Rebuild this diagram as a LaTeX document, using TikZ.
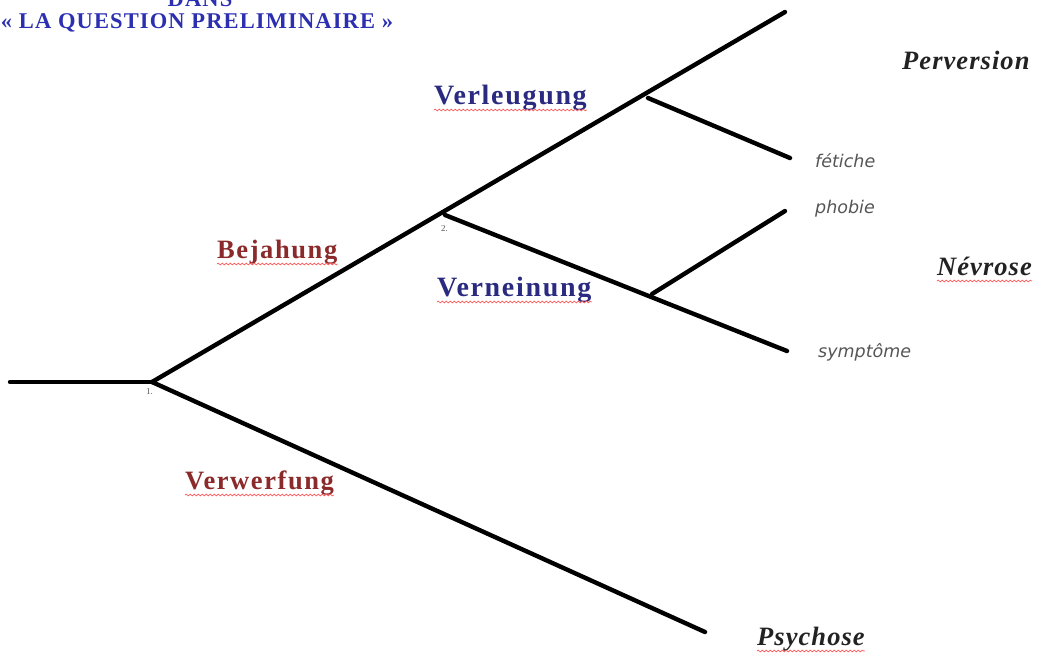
\documentclass[tikz,border=0pt]{standalone}
\usepackage{fontspec}
\setmainfont{Liberation Serif}
\newfontfamily\smallit{DejaVu Sans}
\usetikzlibrary{decorations.pathmorphing}
\definecolor{titleblue}{HTML}{2B2FB0}
\definecolor{dblue}{HTML}{2A2A80}
\definecolor{dred}{HTML}{8A2A2A}
\definecolor{ink}{HTML}{222222}
\definecolor{grey}{HTML}{555555}
\tikzset{
  branch/.style={line width=4.4pt, line cap=round, black},
  term/.style={inner sep=0pt, anchor=base west, font=\fontsize{28}{30}\selectfont\bfseries\addfontfeatures{LetterSpace=6}},
  termb/.style={inner sep=0pt, anchor=base west, font=\fontsize{26.5}{30}\selectfont\bfseries\addfontfeatures{LetterSpace=6}},
  fin/.style={inner sep=0pt, anchor=base west, text=ink, font=\fontsize{26.5}{30}\selectfont\bfseries\itshape\addfontfeatures{LetterSpace=4}},
  sub/.style={inner sep=0pt, anchor=base west, text=grey, font=\smallit\fontsize{17.5}{20}\selectfont\itshape},
  num/.style={inner sep=0pt, anchor=base west, text=grey, font=\fontsize{9}{10}\selectfont},
  wavy/.style={draw=red!65, line width=0.7pt, decorate, decoration={snake, segment length=4pt, amplitude=0.9pt}},
  ttl/.style={inner sep=0pt, anchor=base, text=titleblue, font=\fontsize{22.5}{26}\selectfont\bfseries\addfontfeatures{LetterSpace=5}}
}
\begin{document}
\begin{tikzpicture}[x=1pt,y=-1pt]
\useasboundingbox (0,0) rectangle (1041,657);
% title
\node[ttl] (t0) at (200,6) {DANS};
\node[ttl] (t1) at (197,28) {« LA QUESTION PRELIMINAIRE »};
% branch points
\coordinate (s) at (10,382);
\coordinate (r) at (152,382);
\coordinate (b2) at (445,215);
\coordinate (b3) at (648,98);
\coordinate (b4) at (652,294);
\coordinate (eP) at (785,12);
\coordinate (eF) at (790,158);
\coordinate (eH) at (785,211);
\coordinate (eS) at (787,351);
\coordinate (eY) at (705,632);
% branches
\draw[branch] (s) -- (r);
\draw[branch] (r) -- (eP);
\draw[branch] (r) -- (eY);
\draw[branch] (b2) -- (eS);
\draw[branch] (b3) -- (eF);
\draw[branch] (b4) -- (eH);
% small numbers
\node[num] (n1) at (146,394) {1.};
\node[num] (n2) at (441,231) {2.};
% terms
\node[term, text=dblue] (verl) at (434,104) {Verleugung};
\node[termb, text=dred] (bej) at (217,258) {Bejahung};
\node[term, text=dblue] (vern) at (437,296) {Verneinung};
\node[termb, text=dred] (verw) at (185,489) {Verwerfung};
% outcomes
\node[fin] (perv) at (902,69) {Perversion};
\node[fin] (nevr) at (937,275) {Névrose};
\node[fin] (psy) at (757,645) {Psychose};
% sub labels
\node[sub] (fet) at (815,167) {fétiche};
\node[sub] (pho) at (815,213) {phobie};
\node[sub] (sym) at (818,357) {symptôme};
% spell-check underlines
\foreach \w in {verl,bej,vern,verw,nevr,psy}
  \draw[wavy] ([yshift=-6pt]\w.base west) -- ([yshift=-6pt]\w.base east);
\end{tikzpicture}
\end{document}
